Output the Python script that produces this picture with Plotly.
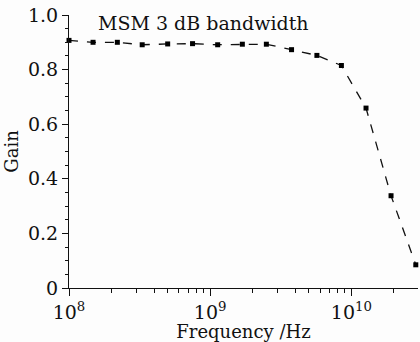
import plotly.graph_objects as go

freq_hz = [1.0e8, 1.48e8, 2.2e8, 3.3e8, 5.0e8, 7.5e8, 1.13e9, 1.69e9, 2.5e9,
           3.77e9, 5.7e9, 8.5e9, 1.27e10, 1.91e10, 2.86e10]
gain = [0.907, 0.900, 0.900, 0.891, 0.894, 0.895, 0.891, 0.893, 0.893,
        0.873, 0.852, 0.815, 0.659, 0.338, 0.085]

x_tick_vals = [1e8, 1e9, 1e10]
x_tick_text = ["10<sup>8</sup>", "10<sup>9</sup>", "10<sup>10</sup>"]
x_minor_vals = [m * 10 ** e for e in (8, 9, 10) for m in range(2, 10) if m * 10 ** e < 3.0e10]
y_tick_vals = [0, 0.2, 0.4, 0.6, 0.8, 1.0]
y_tick_text = ["0", "0.2", "0.4", "0.6", "0.8", "1.0"]
y_minor_vals = [round(i * 0.05, 2) for i in range(21) if i % 4 != 0]

font_family = "DejaVu Serif"

fig = go.Figure()
fig.add_trace(go.Scatter(
    x=freq_hz, y=gain, mode="lines+markers",
    line=dict(color="#111111", width=1.3, dash="dash"),
    marker=dict(symbol="square", size=5, color="#000000"),
    cliponaxis=False, showlegend=False,
))

fig.update_layout(
    width=420, height=342,
    margin=dict(l=69, r=2, t=15, b=54),
    paper_bgcolor="#fdfdfd", plot_bgcolor="#fdfdfd",
    font=dict(family=font_family, size=18, color="#111111"),
    annotations=[dict(text="MSM 3 dB bandwidth", x=0.385, y=0.97,
                      xref="paper", yref="paper", showarrow=False,
                      xanchor="center", yanchor="middle",
                      font=dict(family=font_family, size=19, color="#111111"))],
)
fig.update_xaxes(
    type="log", range=[8, 10.472], showgrid=False, zeroline=False,
    showline=True, linecolor="#111111", linewidth=1.2,
    ticks="outside", ticklen=7, tickwidth=1.2, tickcolor="#111111",
    tickmode="array", tickvals=x_tick_vals, ticktext=x_tick_text,
    minor=dict(tickmode="array", tickvals=x_minor_vals, ticks="outside",
               ticklen=4, tickwidth=1, tickcolor="#111111", showgrid=False),
    title=dict(text="Frequency /Hz", standoff=2, font=dict(size=18)),
    tickfont=dict(size=19),
)
fig.update_yaxes(
    range=[0, 1.0], showgrid=False, zeroline=False,
    showline=True, linecolor="#111111", linewidth=1.2,
    ticks="outside", ticklen=6, tickwidth=1.2, tickcolor="#111111",
    tickmode="array", tickvals=y_tick_vals, ticktext=y_tick_text,
    minor=dict(tickmode="array", tickvals=y_minor_vals, ticks="outside",
               ticklen=3, tickwidth=1, tickcolor="#111111", showgrid=False),
    title=dict(text="Gain", standoff=4, font=dict(size=18)),
    tickfont=dict(size=19),
)

fig.write_html("out.html")
